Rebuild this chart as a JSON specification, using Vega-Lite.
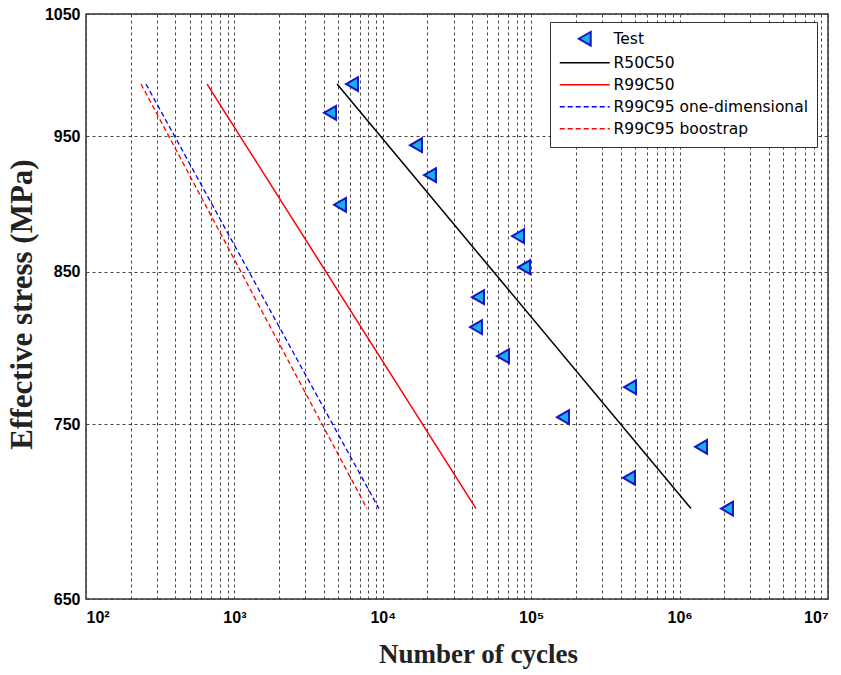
{
  "$schema": "https://vega.github.io/schema/vega-lite/v6.json",
  "width": 742,
  "height": 585,
  "autosize": {"type": "none"},
  "padding": {"left": 86, "top": 14, "right": 13, "bottom": 76},
  "background": "white",
  "config": {
    "view": {"stroke": "#333333", "strokeWidth": 1.5},
    "axis": {"domain": false, "ticks": false, "grid": true, "gridColor": "#444444", "gridDash": [3, 3], "gridWidth": 1}
  },
  "datasets": {
    "tests": [
      {"series": "Test", "cycles": 6201, "stress": 991.4},
      {"series": "Test", "cycles": 4408, "stress": 968.3},
      {"series": "Test", "cycles": 5147, "stress": 898.0},
      {"series": "Test", "cycles": 16740, "stress": 942.9},
      {"series": "Test", "cycles": 20800, "stress": 920.1},
      {"series": "Test", "cycles": 81500, "stress": 875.2},
      {"series": "Test", "cycles": 89450, "stress": 853.2},
      {"series": "Test", "cycles": 43800, "stress": 832.5},
      {"series": "Test", "cycles": 42460, "stress": 812.3},
      {"series": "Test", "cycles": 64570, "stress": 793.2},
      {"series": "Test", "cycles": 163800, "stress": 754.5},
      {"series": "Test", "cycles": 463300, "stress": 773.3},
      {"series": "Test", "cycles": 456000, "stress": 717.9},
      {"series": "Test", "cycles": 1394000, "stress": 736.4},
      {"series": "Test", "cycles": 2086000, "stress": 700.0}
    ],
    "curves": [
      {"series": "R50C50", "cycles": 4914, "stress": 991.4},
      {"series": "R50C50", "cycles": 1193000, "stress": 700.0},
      {"series": "R99C50", "cycles": 654, "stress": 991.4},
      {"series": "R99C50", "cycles": 42460, "stress": 700.0},
      {"series": "R99C95 one-dimensional", "cycles": 253.6, "stress": 991.4},
      {"series": "R99C95 one-dimensional", "cycles": 9420, "stress": 700.0},
      {"series": "R99C95 boostrap", "cycles": 234.8, "stress": 991.4},
      {"series": "R99C95 boostrap", "cycles": 7826, "stress": 700.0}
    ]
  },
  "encoding": {
    "x": {
      "field": "cycles", "type": "quantitative",
      "scale": {"type": "log", "domain": [100, 10000000], "nice": false},
      "axis": {
        "values": [100, 200, 300, 400, 500, 600, 700, 800, 900, 1000, 2000, 3000, 4000, 5000, 6000, 7000, 8000, 9000, 10000, 20000, 30000, 40000, 50000, 60000, 70000, 80000, 90000, 100000, 200000, 300000, 400000, 500000, 600000, 700000, 800000, 900000, 1000000, 2000000, 3000000, 4000000, 5000000, 6000000, 7000000, 8000000, 9000000, 10000000],
        "labelExpr": "datum.value == 100 ? '10²' : datum.value == 1000 ? '10³' : datum.value == 10000 ? '10⁴' : datum.value == 100000 ? '10⁵' : datum.value == 1000000 ? '10⁶' : datum.value == 10000000 ? '10⁷' : ''",
        "labelFont": "Liberation Sans", "labelFontWeight": "bold", "labelFontSize": 16, "labelColor": "black",
        "labelPadding": 10, "labelOverlap": false,
        "title": "Number of cycles", "titleFont": "Liberation Serif", "titleFontSize": 27, "titleFontWeight": "bold", "titleColor": "#222222",
        "titleX": 392, "titleY": 63, "titleBaseline": "alphabetic"
      }
    },
    "y": {
      "field": "stress", "type": "quantitative",
      "scale": {"type": "log", "domain": [650, 1050], "nice": false},
      "axis": {
        "values": [650, 750, 850, 950, 1050], "format": "d",
        "labelFont": "Liberation Sans", "labelFontWeight": "bold", "labelFontSize": 16, "labelColor": "black",
        "labelPadding": 6,
        "title": "Effective stress (MPa)", "titleFont": "Liberation Serif", "titleFontSize": 31, "titleFontWeight": "bold", "titleColor": "#222222",
        "titleX": -55, "titleY": 290, "titleBaseline": "alphabetic"
      }
    },
    "color": {
      "field": "series", "type": "nominal",
      "scale": {
        "domain": ["Test", "R50C50", "R99C50", "R99C95 one-dimensional", "R99C95 boostrap"],
        "range": ["#1414c8", "black", "red", "blue", "red"]
      },
      "legend": {
        "title": null, "orient": "none", "legendX": 464, "legendY": 8,
        "strokeColor": "#333333", "fillColor": "white", "padding": 9,
        "symbolType": "stroke", "symbolSize": 2500, "symbolStrokeWidth": 1.5, "symbolOffset": 18,
        "labelFont": "DejaVu Sans", "labelFontSize": 15.5, "labelColor": "black", "labelOffset": 21,
        "rowPadding": 5, "labelLimit": 300,
        "encode": {
          "symbols": {
            "update": {
              "shape": {"signal": "datum.value === 'Test' ? 'triangle-left' : 'stroke'"},
              "size": {"signal": "datum.value === 'Test' ? 190 : 2500"},
              "fill": {"signal": "datum.value === 'Test' ? '#19b0e6' : 'transparent'"},
              "stroke": {"signal": "datum.value === 'Test' ? '#1414c8' : datum.value === 'R50C50' ? 'black' : datum.value === 'R99C95 one-dimensional' ? 'blue' : 'red'"},
              "strokeDash": {"signal": "indexof(datum.value, 'R99C95') >= 0 ? [5, 3] : [1, 0]"},
              "strokeWidth": {"signal": "datum.value === 'Test' ? 2 : 1.5"},
              "opacity": {"value": 1}
            }
          }
        }
      }
    }
  },
  "layer": [
    {
      "data": {"name": "curves"},
      "transform": [{"filter": "indexof(datum.series, 'R99C95') < 0"}],
      "mark": {"type": "line", "strokeWidth": 1.5}
    },
    {
      "data": {"name": "curves"},
      "transform": [{"filter": "indexof(datum.series, 'R99C95') >= 0"}],
      "mark": {"type": "line", "strokeWidth": 1.3, "strokeDash": [5, 3]}
    },
    {
      "data": {"name": "tests"},
      "mark": {"type": "point", "shape": "triangle-left", "size": 190, "filled": false, "fill": "#19b0e6", "fillOpacity": 1, "strokeWidth": 2, "opacity": 1}
    }
  ]
}
